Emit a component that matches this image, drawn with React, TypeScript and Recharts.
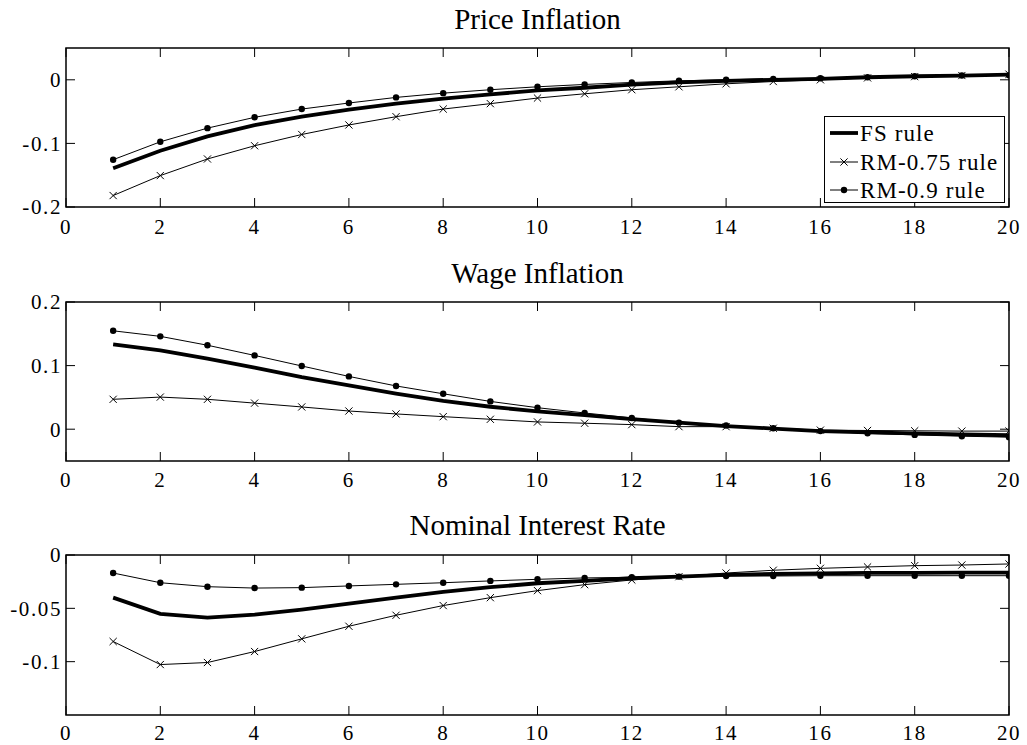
import { LineChart, Line, XAxis, YAxis, ReferenceArea } from 'recharts';

// horizon (quarters)
const periods = [1, 2, 3, 4, 5, 6, 7, 8, 9, 10, 11, 12, 13, 14, 15, 16, 17, 18, 19, 20];
const xTicks = [0, 2, 4, 6, 8, 10, 12, 14, 16, 18, 20];

const seriesNames = ['FS rule', 'RM-0.75 rule', 'RM-0.9 rule'];

// Price Inflation
const priceFS = [-0.139, -0.1115, -0.089, -0.0714, -0.058, -0.047, -0.0375, -0.0297, -0.023, -0.0167, -0.0125, -0.0075, -0.004, -0.0016, 0, 0.0015, 0.004, 0.0056, 0.0067, 0.008];
const priceRM75 = [-0.182, -0.1506, -0.1245, -0.1037, -0.086, -0.071, -0.058, -0.046, -0.0375, -0.0287, -0.022, -0.0156, -0.011, -0.0063, -0.0027, 0, 0.003, 0.005, 0.0067, 0.0088];
const priceRM90 = [-0.1256, -0.0975, -0.076, -0.059, -0.046, -0.0365, -0.0277, -0.021, -0.0156, -0.011, -0.0073, -0.0042, -0.0016, 0, 0.0015, 0.0025, 0.004, 0.0056, 0.0067, 0.007];

// Wage Inflation
const wageFS = [0.1333, 0.124, 0.111, 0.097, 0.082, 0.0688, 0.056, 0.0447, 0.0353, 0.028, 0.022, 0.016, 0.0104, 0.005, 0.001, -0.003, -0.005, -0.0065, -0.008, -0.0095];
const wageRM75 = [0.047, 0.0505, 0.047, 0.041, 0.035, 0.0286, 0.024, 0.0197, 0.0156, 0.0114, 0.0094, 0.0072, 0.004, 0.004, 0.0015, -0.0015, -0.002, -0.0025, -0.003, -0.003];
const wageRM90 = [0.1547, 0.146, 0.132, 0.116, 0.0994, 0.083, 0.068, 0.0557, 0.0437, 0.0338, 0.0255, 0.0177, 0.0104, 0.0057, 0.0015, -0.003, -0.0065, -0.009, -0.011, -0.0125];

// Nominal Interest Rate
const rateFS = [-0.04, -0.0552, -0.0587, -0.0559, -0.0512, -0.0456, -0.04, -0.0346, -0.0302, -0.0265, -0.0243, -0.0218, -0.0203, -0.0187, -0.0178, -0.0172, -0.0168, -0.0167, -0.0166, -0.0166];
const rateRM75 = [-0.0811, -0.1027, -0.1008, -0.0905, -0.0786, -0.0668, -0.0565, -0.0474, -0.04, -0.0334, -0.0278, -0.0234, -0.0203, -0.0169, -0.0143, -0.0125, -0.0112, -0.01, -0.0094, -0.0084];
const rateRM90 = [-0.0169, -0.026, -0.0297, -0.031, -0.0306, -0.029, -0.0275, -0.026, -0.0243, -0.0228, -0.0215, -0.0209, -0.0203, -0.0197, -0.0197, -0.0194, -0.0194, -0.0194, -0.0194, -0.0194];

const FONT = "'Liberation Serif', 'Times New Roman', serif";
const MT = 20; // chart top margin
const XH = 34; // x-axis band
const LEFT = 66;
const RIGHT = 1009;

const buildRows = (fs: number[], rm75: number[], rm90: number[]) =>
  periods.map((t, i) => ({ t, fs: fs[i], rm75: rm75[i], rm90: rm90[i] }));

const CrossDot = (props: any) => {
  const { cx, cy, index } = props;
  if (cx == null || cy == null) return null;
  const s = 3.6;
  return (
    <path
      key={`c-${index}`}
      d={`M${cx - s},${cy - s}L${cx + s},${cy + s}M${cx - s},${cy + s}L${cx + s},${cy - s}`}
      stroke="#000"
      strokeWidth={1}
      fill="none"
    />
  );
};

const BallDot = (props: any) => {
  const { cx, cy, index } = props;
  if (cx == null || cy == null) return null;
  return <circle key={`b-${index}`} cx={cx} cy={cy} r={3.2} fill="#000" stroke="none" />;
};

interface PanelProps {
  top: number;
  plotH: number;
  title: string;
  titleBaseline: number;
  labelGap: number;
  rows: Array<{ t: number; fs: number; rm75: number; rm90: number }>;
  domain: [number, number];
  yTicks: number[];
}

function Panel({ top, plotH, title, titleBaseline, labelGap, rows, domain, yTicks }: PanelProps) {
  const height = MT + plotH + XH;
  const bottom = MT + plotH;

  const XTick = (p: any) => {
    const { x, payload } = p;
    return (
      <g>
        <line x1={x} x2={x} y1={bottom} y2={bottom - 9} stroke="#000" strokeWidth={1} />
        <line x1={x} x2={x} y1={MT} y2={MT + 9} stroke="#000" strokeWidth={1} />
        <text x={x} y={bottom + labelGap} textAnchor="middle" fontFamily={FONT} fontSize={21} letterSpacing={1.6} fill="#000">
          {payload.value}
        </text>
      </g>
    );
  };

  const YTick = (p: any) => {
    const { y, payload } = p;
    return (
      <g>
        <line x1={LEFT} x2={LEFT + 9} y1={y} y2={y} stroke="#000" strokeWidth={1} />
        <line x1={RIGHT} x2={RIGHT - 9} y1={y} y2={y} stroke="#000" strokeWidth={1} />
        <text x={LEFT - 4} y={y} dy="0.35em" textAnchor="end" fontFamily={FONT} fontSize={21} letterSpacing={1.6} fill="#000">
          {payload.value}
        </text>
      </g>
    );
  };

  return (
    <>
      <div
        style={{
          position: 'absolute',
          left: LEFT,
          width: RIGHT - LEFT,
          top: titleBaseline - 24.3,
          lineHeight: '29px',
          fontSize: 29,
          fontFamily: FONT,
          textAlign: 'center',
          color: '#000',
          whiteSpace: 'nowrap',
        }}
      >
        {title}
      </div>
      <div style={{ position: 'absolute', left: 0, top: top - MT }}>
        <LineChart width={1027} height={height} data={rows} margin={{ top: MT, right: 1027 - RIGHT, bottom: 0, left: 0 }}>
          <XAxis
            dataKey="t"
            type="number"
            domain={[0, 20]}
            ticks={xTicks}
            interval={0}
            height={XH}
            tick={XTick}
            tickLine={false}
            axisLine={false}
            allowDataOverflow
          />
          <YAxis
            type="number"
            domain={domain}
            ticks={yTicks}
            interval={0}
            width={LEFT}
            tick={YTick}
            tickLine={false}
            axisLine={false}
            allowDataOverflow
          />
          <ReferenceArea x1={0} x2={20} y1={domain[0]} y2={domain[1]} fill="none" stroke="#000" strokeWidth={1.5} fillOpacity={0} />
          <Line type="linear" dataKey="fs" stroke="#000" strokeWidth={3.8} dot={false} isAnimationActive={false} />
          <Line type="linear" dataKey="rm75" stroke="#000" strokeWidth={1} dot={CrossDot} isAnimationActive={false} />
          <Line type="linear" dataKey="rm90" stroke="#000" strokeWidth={1} dot={BallDot} isAnimationActive={false} />
        </LineChart>
      </div>
    </>
  );
}

function LegendBox() {
  const rowsY = [17, 46, 74];
  return (
    <div
      style={{
        position: 'absolute',
        left: 824,
        top: 116,
        width: 181,
        height: 87,
        boxSizing: 'border-box',
        border: '1.5px solid #000',
        background: '#fff',
        fontFamily: FONT,
      }}
    >
      <svg width={181} height={87} style={{ position: 'absolute', left: -1.5, top: -1.5 }}>
        {seriesNames.map((name, i) => (
          <g key={name}>
            <line x1={6} x2={34} y1={rowsY[i]} y2={rowsY[i]} stroke="#000" strokeWidth={i === 0 ? 3.8 : 1} />
            {i === 1 && <CrossDot cx={20} cy={rowsY[i]} index={0} />}
            {i === 2 && <BallDot cx={20} cy={rowsY[i]} index={0} />}
            <text x={36} y={rowsY[i]} dy="0.35em" fontSize={23} letterSpacing={1.1} fontFamily={FONT} fill="#000">
              {name}
            </text>
          </g>
        ))}
      </svg>
    </div>
  );
}

export default function App() {
  return (
    <div style={{ position: 'absolute', left: 0, top: 0, width: 1027, height: 745, background: '#fff', overflow: 'hidden' }}>
      <Panel
        top={48}
        plotH={159}
        title="Price Inflation"
        titleBaseline={29}
        labelGap={27}
        rows={buildRows(priceFS, priceRM75, priceRM90)}
        domain={[-0.2, 0.05]}
        yTicks={[-0.2, -0.1, 0]}
      />
      <Panel
        top={302}
        plotH={159}
        title="Wage Inflation"
        titleBaseline={283}
        labelGap={26}
        rows={buildRows(wageFS, wageRM75, wageRM90)}
        domain={[-0.05, 0.2]}
        yTicks={[0, 0.1, 0.2]}
      />
      <Panel
        top={555}
        plotH={160}
        title="Nominal Interest Rate"
        titleBaseline={535}
        labelGap={25}
        rows={buildRows(rateFS, rateRM75, rateRM90)}
        domain={[-0.15, 0]}
        yTicks={[-0.1, -0.05, 0]}
      />
      <LegendBox />
    </div>
  );
}
